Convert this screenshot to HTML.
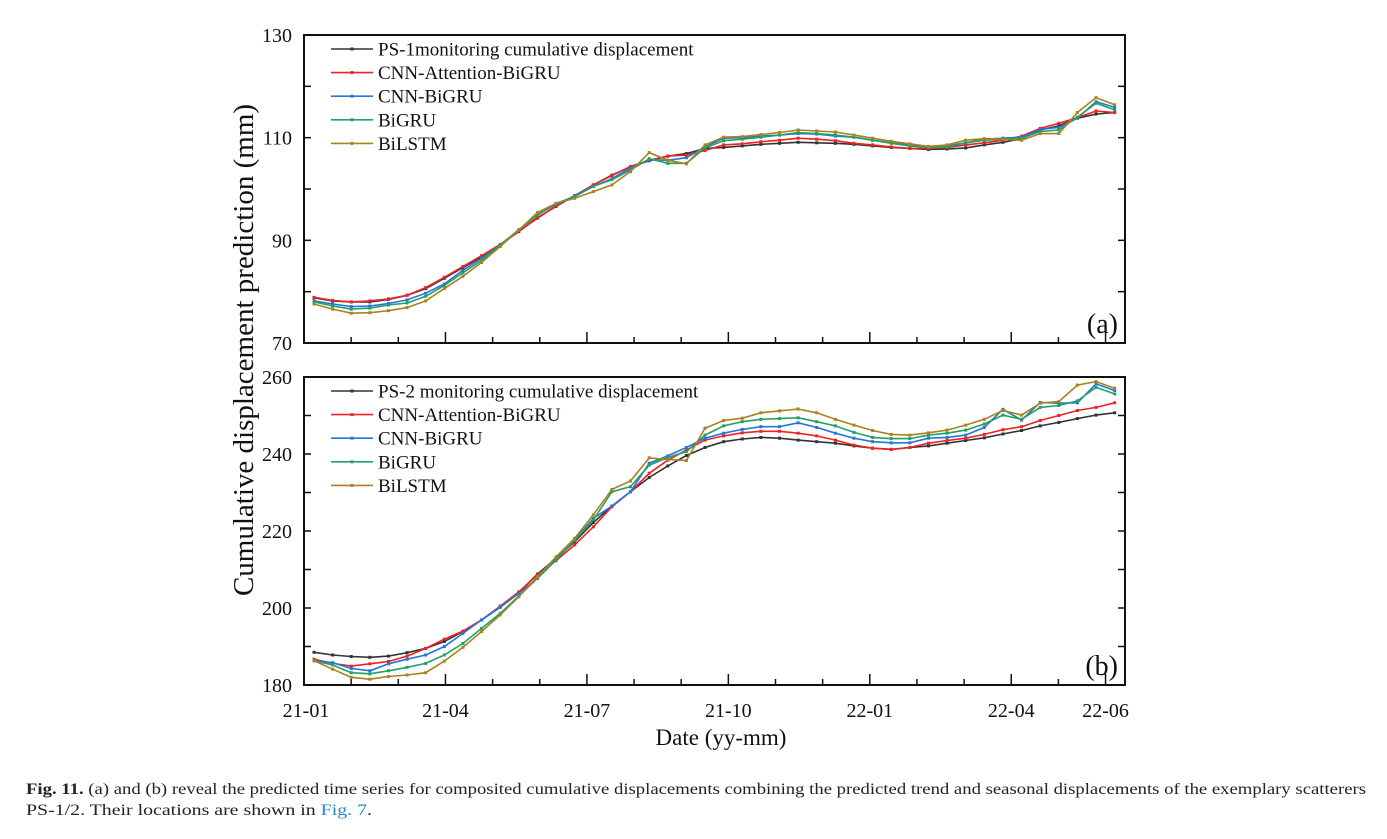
<!DOCTYPE html>
<html><head><meta charset="utf-8">
<style>
body{margin:0;background:#fff;width:1387px;height:839px;overflow:hidden;font-family:"Liberation Serif",serif}
svg{position:absolute;left:0;top:0}
</style></head><body>
<svg id="chart" width="1387" height="839">
<text x="26" y="794" font-size="16" fill="#222" textLength="1340" lengthAdjust="spacingAndGlyphs"><tspan font-weight="bold">Fig. 11.</tspan>  (a) and (b) reveal the predicted time series for composited cumulative displacements combining the predicted trend and seasonal displacements of the exemplary scatterers</text>
<text x="26" y="815" font-size="16" fill="#222" textLength="346" lengthAdjust="spacingAndGlyphs">PS-1/2. Their locations are shown in <tspan fill="#2a8ac0">Fig. 7</tspan>.</text>
</svg>
<script>
const xTickLabels=["21-01","21-04","21-07","21-10","22-01","22-04","22-06"];
const xTickMonths=[0,3,6,9,12,15,17];
const seriesNames=["CNN-Attention-BiGRU","CNN-BiGRU","BiGRU","BiLSTM"];
const colors=["#333333","#ee2222","#2277dd","#22a066","#aa8020"];
const aYTicks=[70,90,110,130];
const bYTicks=[180,200,220,240,260];
// Panel (a) PS-1
const aObs=[78.8,78.2,78.0,78.0,78.5,79.3,80.6,82.6,84.7,86.8,89.1,91.7,94.4,96.6,98.7,100.8,102.7,104.3,105.5,106.4,106.9,107.9,108.1,108.4,108.7,108.9,109.1,109.0,108.9,108.7,108.4,108.1,107.9,107.7,107.8,108.0,108.6,109.1,109.8,111.5,112.3,113.8,114.6,114.9];
const aAttn=[78.9,78.3,78.0,78.2,78.6,79.3,80.8,82.8,84.9,87.0,89.2,91.8,94.3,96.7,98.7,100.8,102.6,104.4,105.6,106.4,106.6,107.5,108.6,108.8,109.2,109.5,109.9,109.7,109.4,108.9,108.6,108.2,107.9,107.9,108.1,108.6,109.0,109.5,110.3,111.8,112.8,113.9,115.2,114.9];
const aCnn=[78.2,77.6,77.1,77.2,77.7,78.4,79.7,81.5,84.2,86.5,89.1,92.0,95.0,97.0,98.7,100.5,102.0,104.1,105.7,105.6,106.1,108.2,109.9,110.0,110.3,110.5,110.8,110.7,110.3,110.1,109.5,109.0,108.6,108.1,108.4,109.0,109.7,109.9,110.1,111.6,112.0,113.8,117.0,115.9];
const aGru=[78.0,77.2,76.6,76.8,77.4,77.8,79.1,81.2,83.7,86.1,89.1,92.1,94.9,97.2,98.5,100.5,101.8,103.7,105.9,105.0,105.0,108.0,109.4,109.7,110.1,110.5,111.0,110.8,110.5,110.1,109.5,108.9,108.4,108.1,108.2,109.0,109.5,109.7,109.9,111.2,111.5,114.0,116.7,115.4];
const aLstm=[77.6,76.6,75.8,75.9,76.3,76.9,78.2,80.6,83.0,85.7,88.8,92.0,95.4,97.2,98.2,99.5,100.8,103.4,107.1,105.6,104.9,108.6,110.1,110.2,110.6,111.0,111.5,111.3,111.1,110.5,109.9,109.3,108.8,108.3,108.6,109.5,109.8,109.7,109.5,110.8,110.8,114.9,117.8,116.4];
// Panel (b) PS-2
const bObs=[188.5,187.8,187.4,187.2,187.5,188.4,189.5,191.3,193.9,196.9,200.2,204.0,208.8,212.9,217.2,222.2,226.5,230.2,233.9,236.9,239.6,241.7,243.2,243.9,244.3,244.1,243.6,243.2,242.8,242.1,241.5,241.2,241.7,242.1,242.8,243.5,244.2,245.2,246.1,247.3,248.2,249.2,250.1,250.7];
const bAttn=[186.7,185.6,184.9,185.5,186.1,187.5,189.5,191.9,194.0,196.9,200.5,204.2,208.6,212.3,216.4,221.1,226.3,230.2,235.0,238.4,241.0,243.6,244.7,245.5,245.9,245.9,245.4,244.7,243.6,242.3,241.5,241.2,241.7,242.8,243.5,244.1,245.1,246.3,247.1,248.7,250.0,251.3,252.1,253.3];
const bCnn=[186.3,185.8,184.3,183.7,185.5,186.7,187.8,190.0,193.4,196.9,200.2,203.8,207.7,212.5,217.7,223.3,226.5,230.2,237.6,239.5,241.7,244.1,245.4,246.4,247.1,247.1,248.1,246.9,245.4,244.1,243.2,242.9,242.9,244.1,244.3,244.9,246.9,251.6,248.8,253.4,253.2,253.3,258.2,256.5];
const bGru=[186.3,185.2,183.2,182.9,183.7,184.6,185.6,187.8,190.8,194.7,198.6,203.1,207.7,212.6,217.5,222.9,230.2,231.5,237.1,239.1,240.6,244.9,247.3,248.4,249.0,249.2,249.4,248.4,247.3,245.6,244.3,244.0,244.0,244.9,245.4,246.2,247.8,250.1,249.0,252.1,252.6,253.8,257.3,255.6];
const bLstm=[186.3,184.1,182.0,181.5,182.2,182.6,183.2,186.2,189.8,193.9,198.2,202.9,208.1,213.3,218.1,224.2,230.8,233.0,239.0,238.6,238.3,246.7,248.7,249.3,250.7,251.2,251.7,250.7,249.0,247.5,246.1,245.1,244.9,245.5,246.2,247.5,249.0,251.3,250.1,253.2,253.6,257.9,258.8,257.1];

const NS="http://www.w3.org/2000/svg";
const svg=document.getElementById('chart');
function mk(tag,attrs,parent){const e=document.createElementNS(NS,tag);for(const k in attrs)e.setAttribute(k,attrs[k]);(parent||svg).appendChild(e);return e;}
const X0=304,X1=1125,MONTH=47.15,FIRST=314,STEP=18.62;
const xMonth=m=>X0+m*MONTH;
const xIdx=i=>FIRST+i*STEP;

function panel(key,top,bot,ymin,ymax,yTicks,series,legendTitle,tag){
  const g=mk('g',{});
  
  
  const y=v=>bot-(v-ymin)/(ymax-ymin)*(bot-top);
  const frame=mk('rect',{x:X0,y:top,width:X1-X0,height:bot-top,fill:'none',stroke:'#111','stroke-width':2},g);
  
  
  for(let v=ymin+10;v<ymax;v+=10){
    mk('line',{x1:X0,x2:X0+7,y1:y(v),y2:y(v),stroke:'#111','stroke-width':1.5},g);
    mk('line',{x1:X1,x2:X1-7,y1:y(v),y2:y(v),stroke:'#111','stroke-width':1.5},g);
  }
  yTicks.forEach(v=>{
    const t=mk('text',{x:292,y:y(v)+7,'text-anchor':'end','font-size':20,fill:'#111'},g);
    t.textContent=v;
    
    
  });
  for(let m=1;m<=17;m++){
    const major=xTickMonths.includes(m);
    mk('line',{x1:xMonth(m),x2:xMonth(m),y1:bot,y2:bot-(major?11:6),stroke:'#111','stroke-width':1.5},g);
  }
  series.forEach((s,k)=>{
    const pts=s.map((v,i)=>xIdx(i).toFixed(1)+','+y(v).toFixed(1)).join(' ');
    const pl=mk('polyline',{points:pts,fill:'none',stroke:colors[k],'stroke-width':1.6},g);
    
    
    s.forEach((v,i)=>{
      const r=mk('rect',{x:xIdx(i)-1.5,y:y(v)-1.5,width:3,height:3,fill:colors[k]},g);
      
      
    });
  });
  const names=[legendTitle].concat(seriesNames);
  names.forEach((n,k)=>{
    const ly=top+14+k*23.6;
    const ln=mk('line',{x1:331,x2:373,y1:ly,y2:ly,stroke:colors[k],'stroke-width':1.6},g);
    
    
    const r=mk('rect',{x:350.5,y:ly-1.5,width:3,height:3,fill:colors[k]},g);
    
    
    const t=mk('text',{x:378,y:ly+6.5,'font-size':19,fill:'#111'},g);
    t.textContent=n;
    
    
  });
  const tg=mk('text',{x:1118,y:bot-10,'text-anchor':'end','font-size':28,fill:'#111'},g);
  tg.textContent=tag;
  
  
}
panel('a',35,343,70,130,aYTicks,[aObs,aAttn,aCnn,aGru,aLstm],'PS-1monitoring cumulative displacement','(a)');
panel('b',377,685,180,260,bYTicks,[bObs,bAttn,bCnn,bGru,bLstm],'PS-2 monitoring cumulative displacement','(b)');
xTickLabels.forEach((l,i)=>{
  const t=mk('text',{x:xMonth(xTickMonths[i])+(i==0?2:0),y:717,'text-anchor':'middle','font-size':20,fill:'#111'});
  t.textContent=l;
  
  
});
const xt=mk('text',{x:721,y:745,'text-anchor':'middle','font-size':23,fill:'#111'});
xt.textContent='Date (yy-mm)';


const yt=mk('text',{x:0,y:0,'text-anchor':'middle','font-size':29,fill:'#111',transform:'translate(253,350) rotate(-90)'});
yt.textContent='Cumulative displacement prediction (mm)';


</script>
</body></html>
